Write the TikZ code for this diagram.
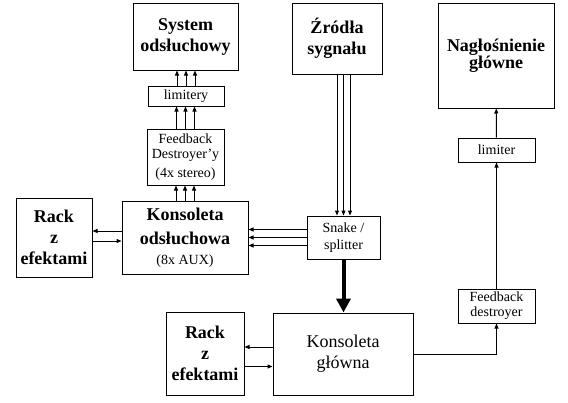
\documentclass[tikz,border=0pt]{standalone}
\usepackage{fontspec}
\setmainfont{Liberation Serif}
\usetikzlibrary{arrows.meta,positioning,calc}

\begin{document}
\begin{tikzpicture}[x=1pt,y=-1pt,line width=1pt,
  box/.style={draw, inner sep=0pt, align=center},
  big/.style={font=\fontsize{18}{21}\selectfont\bfseries},
  mid/.style={font=\fontsize{18}{21}\selectfont},
  small/.style={font=\fontsize{14}{15}\selectfont},
  arr/.style={-{Triangle[length=5pt,width=4pt]}}]
\useasboundingbox (0,0) rectangle (568,402);
% monitor chain
\node[box,big,minimum width=105pt,minimum height=67pt] (sys) at (185.5,36.5) {System\\odsłuchowy};
\node[box,small,minimum width=76pt,minimum height=20pt] (lim) at (186,96) {limitery};
\node[box,small,minimum width=77pt,minimum height=56pt] (fd) at (185.5,157) {Feedback\\Destroyer’y\\[4pt](4x stereo)};
\node[box,big,minimum width=126pt,minimum height=73pt] (ko) at (185,237.5)
  {Konsoleta\\[3pt]odsłuchowa\\[-1pt]{\fontsize{14}{15}\selectfont\mdseries (8x AUX)}};
\node[box,big,minimum width=76pt,minimum height=79pt] (rk1) at (54,237.5) {Rack\\z\\efektami};
% sources
\node[box,big,minimum width=90pt,minimum height=71pt] (zr) at (337,38.5) {Źródła\\sygnału};
\node[box,small,minimum width=73pt,minimum height=43pt] (sn) at (343.5,237.5) {Snake /\\[2pt]splitter};
% main chain
\node[box,mid,minimum width=140pt,minimum height=82pt] (kg) at (343,354) {Konsoleta\\główna};
\node[box,big,minimum width=78pt,minimum height=83pt] (rk2) at (205,353.5) {Rack\\z\\efektami};
\node[box,big,minimum width=116pt,minimum height=105pt] (nag) at (496,55.5) {Nagłośnienie\\[-4pt]główne};
\node[box,small,minimum width=77pt,minimum height=24pt] (lim2) at (496.5,150) {limiter};
\node[box,small,minimum width=77pt,minimum height=34pt] (fd2) at (496.5,306) {Feedback\\destroyer};

\foreach \d in {-9,0,9} {
  \draw[arr] ([xshift=\d pt]lim.north) -- ([xshift=\d pt]lim.north |- sys.south);
  \draw[arr] ([xshift=\d pt]fd.north) -- ([xshift=\d pt]fd.north |- lim.south);
  \draw[arr] ([xshift=\d pt]ko.north) -- ([xshift=\d pt]ko.north |- fd.south);
}
\foreach \d in {-6.5,0,6.5}
  \draw[arr] ([xshift=\d pt]sn.north |- zr.south) -- ([xshift=\d pt]sn.north);
\foreach \d in {-8,0,8}
  \draw[arr] ([yshift=\d pt]sn.west) -- ([yshift=\d pt]sn.west -| ko.east);

\draw[arr] ([yshift=6.5pt]ko.west) -- ([yshift=6.5pt]ko.west -| rk1.east);
\draw[arr] ([yshift=-3.5pt]rk1.east) -- ([yshift=-3.5pt]rk1.east -| ko.west);
\draw[arr] ([yshift=7pt]kg.west) -- ([yshift=7pt]kg.west -| rk2.east);
\draw[arr] ([yshift=-13pt]rk2.east) -- ([yshift=-13pt]rk2.east -| kg.west);

\draw[line width=4pt,-{Triangle[length=14pt,width=14pt]}] (sn.south) -- (sn.south |- kg.north);
\draw[arr] (kg.east) -| (fd2.south);
\draw[arr] (fd2) -- (lim2);
\draw[arr] (lim2) -- (nag);
\end{tikzpicture}
\end{document}
